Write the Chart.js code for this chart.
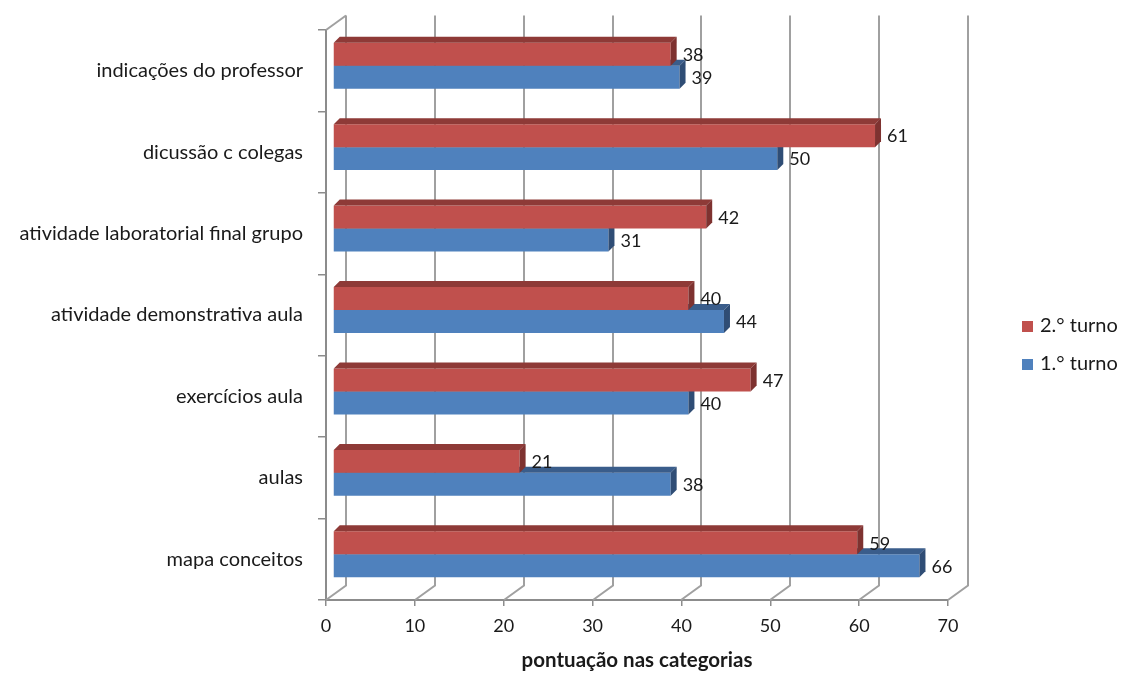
<!DOCTYPE html>
<html>
<head>
<meta charset="utf-8">
<script src="https://cdn.jsdelivr.net/npm/chart.js@4.4.1/dist/chart.umd.min.js"></script>
<style>
  html, body { margin: 0; padding: 0; background: #ffffff; }
  #wrap { width: 1124px; height: 673px; }
</style>
</head>
<body>
<div id="wrap"><canvas id="c" width="1124" height="673"></canvas></div>
<script>
// Categories, top to bottom
const categories = [
  'indicações do professor',
  'dicussão c colegas',
  'atividade laboratorial final grupo',
  'atividade demonstrativa aula',
  'exercícios aula',
  'aulas',
  'mapa conceitos'
];
// Scores per shift
const turno2 = [38, 61, 42, 40, 47, 21, 59];
const turno1 = [39, 50, 31, 44, 40, 38, 66];
const seriesNames = ['2.° turno', '1.° turno'];
const axisTitle = 'pontuação nas categorias';
const xMin = 0, xMax = 70, xStep = 10;

const FONT = 'Lato, "Open Sans", sans-serif';
const TEXT = '#1a1a1a';
const AXIS = '#8c8c8c';
const GRID = '#a0a0a0';

// Pseudo-3D geometry: back wall offset and bar depth
const WALL_DX = 20, WALL_DY = -14.5;
const BAR_DX = 7, BAR_DY = -5;
const BAR_DEPTH = 6;

const faceColors = [
  { top: '#8E3A37', side: '#7E3230' },
  { top: '#3A5D8B', side: '#2F4D75' }
];

const depthPlugin = {
  id: 'depth3d',
  beforeDatasetsDraw(chart) {
    const { ctx, chartArea: a, scales: { x } } = chart;
    ctx.save();
    ctx.strokeStyle = GRID;
    ctx.lineWidth = 2;
    x.ticks.forEach(t => {
      const px = Math.round(x.getPixelForValue(t.value));
      // back-wall gridline
      ctx.beginPath();
      ctx.moveTo(px + WALL_DX, a.top + WALL_DY);
      ctx.lineTo(px + WALL_DX, a.bottom + WALL_DY);
      // floor edge back to the front axis
      ctx.lineTo(px, a.bottom);
      ctx.stroke();
    });
    // top edge of the side wall
    ctx.beginPath();
    ctx.moveTo(a.left, a.top);
    ctx.lineTo(a.left + WALL_DX, a.top + WALL_DY);
    ctx.stroke();
    ctx.restore();

    ctx.save();
    ctx.translate(BAR_DX, BAR_DY);
  },
  afterDatasetDraw(chart, args) {
    const { ctx } = chart;
    const c = faceColors[args.index];
    const D = BAR_DEPTH;
    args.meta.data.forEach(el => {
      const { x, y, base, height } = el.getProps(['x', 'y', 'base', 'height'], true);
      const t = y - height / 2, b = y + height / 2;
      ctx.fillStyle = c.top;
      ctx.beginPath();
      ctx.moveTo(base, t);
      ctx.lineTo(x, t);
      ctx.lineTo(x + D, t - D);
      ctx.lineTo(base + D, t - D);
      ctx.closePath();
      ctx.fill();
      ctx.fillStyle = c.side;
      ctx.beginPath();
      ctx.moveTo(x, t);
      ctx.lineTo(x, b);
      ctx.lineTo(x + D, b - D);
      ctx.lineTo(x + D, t - D);
      ctx.closePath();
      ctx.fill();
    });
  },
  afterDatasetsDraw(chart) {
    const { ctx } = chart;
    ctx.restore();
    ctx.save();
    ctx.font = '18px ' + FONT;
    ctx.fillStyle = TEXT;
    ctx.textAlign = 'left';
    ctx.textBaseline = 'middle';
    chart.data.datasets.forEach((ds, i) => {
      chart.getDatasetMeta(i).data.forEach((el, j) => {
        const { x, y } = el.getProps(['x', 'y'], true);
        ctx.fillText(String(ds.data[j]), x + BAR_DX + 12, y + BAR_DY + 1);
      });
    });
    ctx.restore();
  }
};

const legendPlugin = {
  id: 'sideLegend',
  afterDraw(chart) {
    const { ctx } = chart;
    ctx.save();
    ctx.font = '20px ' + FONT;
    ctx.textBaseline = 'middle';
    ctx.textAlign = 'left';
    const rows = [326, 364];
    chart.data.datasets.forEach((ds, i) => {
      const cy = rows[i];
      ctx.fillStyle = ds.backgroundColor;
      ctx.fillRect(1022, cy - 5, 11, 11);
      ctx.fillStyle = TEXT;
      ctx.fillText(ds.label, 1040, cy);
    });
    ctx.restore();
  }
};

new Chart(document.getElementById('c'), {
  type: 'bar',
  data: {
    labels: categories,
    datasets: [
      { label: seriesNames[0], data: turno2, backgroundColor: '#C0504D' },
      { label: seriesNames[1], data: turno1, backgroundColor: '#4F81BD' }
    ]
  },
  options: {
    indexAxis: 'y',
    responsive: false,
    animation: false,
    devicePixelRatio: 1,
    layout: { padding: { left: 0, top: 30, right: 176, bottom: 0 } },
    datasets: { bar: { categoryPercentage: 0.564, barPercentage: 1, borderWidth: 0 } },
    plugins: { legend: { display: false }, tooltip: { enabled: false } },
    scales: {
      x: {
        min: xMin, max: xMax,
        ticks: { stepSize: xStep, padding: 9, color: TEXT, font: { family: FONT, size: 18 } },
        grid: { drawOnChartArea: false, drawTicks: true, tickLength: 6, color: AXIS, lineWidth: 1.5 },
        border: { color: AXIS, width: 2 },
        title: {
          display: true, text: axisTitle, color: TEXT,
          font: { family: FONT, size: 20.5, weight: 'bold' },
          padding: { top: 0, bottom: 0 }
        },
        afterFit(s) { s.height = 73; }
      },
      y: {
        ticks: { padding: 15, color: TEXT, font: { family: FONT, size: 20 } },
        grid: { drawOnChartArea: false, offset: true, tickLength: 8, color: AXIS, lineWidth: 1.5 },
        border: { color: AXIS, width: 2 },
        afterFit(s) { s.width = 326; }
      }
    }
  },
  plugins: [depthPlugin, legendPlugin]
});
</script>
</body>
</html>
